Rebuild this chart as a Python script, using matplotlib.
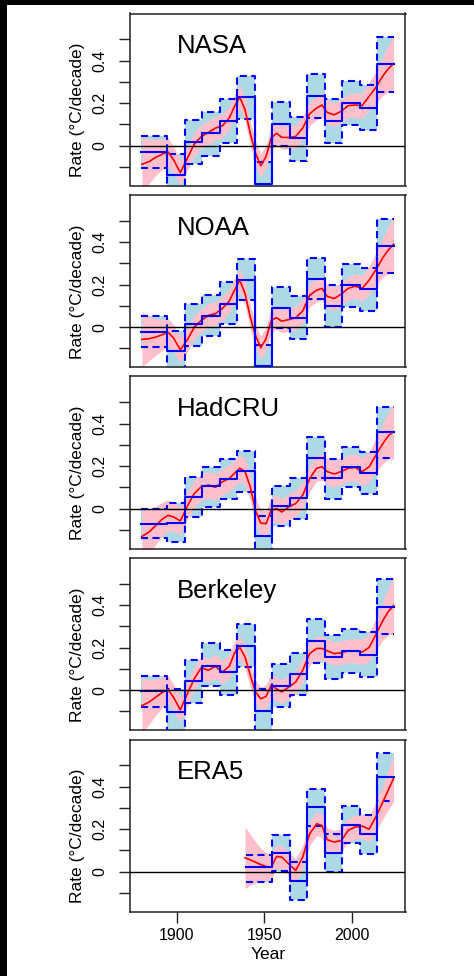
import numpy as np
import matplotlib
matplotlib.use('Agg')
import matplotlib.pyplot as plt
from matplotlib.patches import Rectangle

plt.rcParams['font.family'] = ['Liberation Sans', 'DejaVu Sans']

# ---------------- data ----------------
datasets = ['NASA', 'NOAA', 'HadCRU', 'Berkeley', 'ERA5']

seg_edges_long = [1879.5, 1894.5, 1904.5, 1914.5, 1924.5, 1934.5, 1944.5, 1954.5,
                  1964.5, 1974.5, 1984.5, 1994.5, 2004.5, 2014.5, 2024.5]
seg_edges_era5 = [1939.5, 1954.5, 1964.5, 1974.5, 1984.5, 1994.5, 2004.5, 2014.5, 2024.5]

rate_nasa = [-0.03, -0.137, 0.016, 0.058, 0.115, 0.227, -0.18, 0.101, 0.035, 0.232, 0.118, 0.2, 0.178, 0.382]
hi_nasa = [0.046, -0.04, 0.122, 0.158, 0.22, 0.329, -0.076, 0.204, 0.136, 0.335, 0.221, 0.306, 0.284, 0.513]
lo_nasa = [-0.107, -0.235, -0.087, -0.047, 0.014, 0.126, -0.285, -0.003, -0.073, 0.13, 0.014, 0.098, 0.073, 0.25]

rate_noaa = [-0.024, -0.114, 0.013, 0.054, 0.111, 0.224, -0.182, 0.09, 0.044, 0.226, 0.1, 0.196, 0.177, 0.384]
hi_noaa = [0.05, -0.019, 0.107, 0.153, 0.21, 0.322, -0.084, 0.19, 0.145, 0.324, 0.2, 0.295, 0.276, 0.51]
lo_noaa = [-0.095, -0.21, -0.087, -0.044, 0.013, 0.126, -0.28, -0.005, -0.058, 0.13, 0.0, 0.095, 0.074, 0.257]

rate_hadcru = [-0.071, -0.068, 0.055, 0.106, 0.137, 0.177, -0.131, 0.011, 0.051, 0.24, 0.142, 0.197, 0.169, 0.36]
hi_hadcru = [0.0, 0.024, 0.147, 0.197, 0.232, 0.273, -0.036, 0.107, 0.145, 0.336, 0.234, 0.292, 0.265, 0.479]
lo_hadcru = [-0.139, -0.158, -0.04, 0.008, 0.043, 0.079, -0.226, -0.084, -0.047, 0.142, 0.043, 0.103, 0.071, 0.24]

rate_berkeley = [-0.006, -0.101, 0.041, 0.115, 0.084, 0.209, -0.1, 0.021, 0.074, 0.231, 0.156, 0.185, 0.166, 0.393]
hi_berkeley = [0.066, 0.006, 0.144, 0.223, 0.188, 0.311, 0.003, 0.122, 0.175, 0.333, 0.259, 0.286, 0.275, 0.524]
lo_berkeley = [-0.081, -0.21, -0.062, 0.017, -0.021, 0.109, -0.205, -0.081, -0.025, 0.128, 0.054, 0.082, 0.062, 0.264]

rate_era5 = [0.02, 0.087, -0.043, 0.304, 0.087, 0.22, 0.175, 0.446]
hi_era5 = [0.08, 0.17, 0.044, 0.39, 0.175, 0.307, 0.265, 0.559]
lo_era5 = [-0.05, 0.005, -0.132, 0.214, -0.003, 0.134, 0.083, 0.331]

smooth_years = [1880, 1884, 1888, 1892, 1895, 1898, 1902, 1906, 1910, 1914, 1918, 1922, 1926, 1930,
                1933, 1936, 1939, 1942, 1945, 1948, 1951, 1954, 1957, 1960, 1964, 1968, 1972, 1976,
                1980, 1983, 1986, 1990, 1994, 1998, 2002, 2006, 2010, 2014, 2018, 2021, 2024]

smooth_nasa = [-0.088, -0.076, -0.055, -0.039, -0.03, -0.065, -0.128, -0.06, 0.008, 0.043, 0.062, 0.082,
               0.093, 0.13, 0.185, 0.229, 0.169, 0.058, -0.036, -0.095, -0.052, 0.035, 0.058, 0.039,
               0.038, 0.043, 0.082, 0.15, 0.177, 0.191, 0.156, 0.145, 0.161, 0.188, 0.191, 0.188,
               0.232, 0.276, 0.33, 0.362, 0.387]
smooth_noaa = [-0.058, -0.055, -0.047, -0.035, -0.025, -0.05, -0.107, -0.06, 0.0, 0.032, 0.055, 0.063,
               0.087, 0.123, 0.174, 0.221, 0.158, 0.047, -0.04, -0.098, -0.055, 0.032, 0.044, 0.028,
               0.035, 0.044, 0.076, 0.15, 0.174, 0.182, 0.145, 0.134, 0.155, 0.182, 0.193, 0.182,
               0.221, 0.272, 0.329, 0.363, 0.39]
smooth_hadcru = [-0.131, -0.111, -0.079, -0.047, -0.032, -0.039, -0.058, 0.012, 0.071, 0.103, 0.111, 0.1,
                 0.126, 0.142, 0.166, 0.19, 0.174, 0.103, -0.01, -0.068, -0.071, -0.008, 0.0, -0.016,
                 0.008, 0.024, 0.063, 0.142, 0.19, 0.197, 0.174, 0.163, 0.174, 0.19, 0.194, 0.174,
                 0.197, 0.253, 0.308, 0.343, 0.363]
smooth_berkeley = [-0.073, -0.057, -0.033, -0.009, 0.002, -0.033, -0.093, -0.017, 0.054, 0.106, 0.093,
                   0.112, 0.085, 0.112, 0.175, 0.201, 0.156, 0.07, -0.009, -0.041, -0.03, 0.022, 0.006,
                   -0.009, 0.014, 0.038, 0.093, 0.172, 0.196, 0.196, 0.185, 0.172, 0.175, 0.185, 0.185,
                   0.179, 0.201, 0.264, 0.33, 0.37, 0.398]
halfwidth_long = [0.13, 0.105, 0.085, 0.072, 0.066, 0.062, 0.06, 0.057, 0.055, 0.055, 0.055, 0.055, 0.055,
                  0.055, 0.055, 0.055, 0.055, 0.055, 0.055, 0.055, 0.055, 0.055, 0.055, 0.055, 0.055,
                  0.055, 0.055, 0.055, 0.055, 0.055, 0.055, 0.055, 0.055, 0.055, 0.057, 0.06, 0.066,
                  0.076, 0.093, 0.11, 0.135]
halfwidth_hadcru = [0.13, 0.11, 0.09, 0.078, 0.072, 0.068, 0.066, 0.064, 0.062, 0.062, 0.062, 0.062,
                    0.062, 0.062, 0.062, 0.062, 0.062, 0.062, 0.062, 0.062, 0.062, 0.062, 0.062, 0.062,
                    0.062, 0.062, 0.062, 0.062, 0.062, 0.062, 0.062, 0.062, 0.062, 0.062, 0.063, 0.066,
                    0.07, 0.08, 0.095, 0.11, 0.13]

smooth_years_era5 = [1939, 1942, 1945, 1948, 1951, 1954, 1957, 1960, 1964, 1968, 1972, 1976, 1980,
                     1983, 1986, 1990, 1994, 1998, 2002, 2006, 2010, 2014, 2018, 2021, 2024]
smooth_era5 = [0.065, 0.055, 0.044, 0.033, 0.024, 0.02, 0.071, 0.068, 0.036, 0.005, 0.068, 0.178,
               0.225, 0.217, 0.15, 0.139, 0.146, 0.194, 0.21, 0.214, 0.2, 0.26, 0.33, 0.385, 0.44]
halfwidth_era5 = [0.145, 0.12, 0.097, 0.078, 0.066, 0.06, 0.055, 0.055, 0.055, 0.055, 0.055, 0.055,
                  0.055, 0.055, 0.055, 0.055, 0.055, 0.055, 0.055, 0.057, 0.06, 0.068, 0.08, 0.094, 0.11]

ytick_vals = [-0.1, 0, 0.1, 0.2, 0.3, 0.4, 0.5]
ytick_labels = ['', '0', '', '0.2', '', '0.4', '']
xtick_vals = [1900, 1950, 2000]
xtick_labels = ['1900', '1950', '2000']

panels = [
    ('NASA', seg_edges_long, rate_nasa, lo_nasa, hi_nasa, smooth_years, smooth_nasa, halfwidth_long),
    ('NOAA', seg_edges_long, rate_noaa, lo_noaa, hi_noaa, smooth_years, smooth_noaa, halfwidth_long),
    ('HadCRU', seg_edges_long, rate_hadcru, lo_hadcru, hi_hadcru, smooth_years, smooth_hadcru, halfwidth_hadcru),
    ('Berkeley', seg_edges_long, rate_berkeley, lo_berkeley, hi_berkeley, smooth_years, smooth_berkeley, halfwidth_long),
    ('ERA5', seg_edges_era5, rate_era5, lo_era5, hi_era5, smooth_years_era5, smooth_era5, halfwidth_era5),
]

# ---------------- figure ----------------
W, H = 474, 976
fig = plt.figure(figsize=(W / 100, H / 100), dpi=100)
fig.patch.set_facecolor('white')

ax_left, ax_right = 130, 405.5
panel_h = 172.0
tops = [13.5, 195.0, 376.5, 558.0, 739.5]

dash = (0, (3.4, 2.1))

for i, (name, edges, rate, lo, hi, sy, sv, hw) in enumerate(panels):
    top = tops[i]
    ax = fig.add_axes([ax_left / W, 1 - (top + panel_h) / H, (ax_right - ax_left) / W, panel_h / H])
    edges = np.asarray(edges)
    rate_e = np.append(rate, rate[-1])
    lo_e = np.append(lo, lo[-1])
    hi_e = np.append(hi, hi[-1])
    sy = np.asarray(sy)
    sv = np.asarray(sv)
    hw = np.asarray(hw)

    ax.fill_between(edges, lo_e, hi_e, step='post', color='#ADD8E6', lw=0, zorder=1)
    ax.fill_between(sy, sv - hw, sv + hw, color='#FFC0CB', lw=0, zorder=2)
    ax.plot(edges, hi_e, drawstyle='steps-post', color='blue', lw=1.5, ls=dash, zorder=3)
    ax.plot(edges, lo_e, drawstyle='steps-post', color='blue', lw=1.5, ls=dash, zorder=3)
    ax.plot(sy, sv, color='red', lw=1.2, zorder=4, solid_joinstyle='round')
    ax.plot(edges, rate_e, drawstyle='steps-post', color='blue', lw=1.5, zorder=5)
    ax.axhline(0, color='black', lw=1.0, zorder=6)

    ax.set_xlim(1873.2, 2030.8)
    ax.set_ylim(-0.188, 0.622)

    ax.text(1900, 0.435, name, fontsize=18.5, ha='left', va='baseline', zorder=7)

    for sp in ax.spines.values():
        sp.set_color('#222222')
        sp.set_linewidth(1.1)

    ax.set_yticks(ytick_vals)
    ax.set_yticklabels(ytick_labels)
    ax.tick_params(axis='y', direction='out', length=8, width=1.0, color='#222222',
                   labelsize=11.5, pad=8.0, labelrotation=90)
    for lbl in ax.get_yticklabels():
        lbl.set_va('center')

    ax.set_ylabel('Rate (°C/decade)', fontsize=12.5)
    ax.yaxis.set_label_coords(-0.165, 0.44)

    if i < len(panels) - 1:
        ax.set_xticks([])
    else:
        ax.set_xticks(xtick_vals)
        ax.set_xticklabels(xtick_labels)
        ax.tick_params(axis='x', direction='out', length=8, width=1.0, color='#222222',
                       labelsize=11.5, pad=4.0)
        ax.set_xlabel('Year', fontsize=12.5, labelpad=2.5)

# black frame strips visible in the reference image
fig.patches.append(Rectangle((0, 1 - 5 / H), 1, 5 / H, transform=fig.transFigure,
                             facecolor='black', edgecolor='none', zorder=10))
fig.patches.append(Rectangle((0, 0), 6.5 / W, 1, transform=fig.transFigure,
                             facecolor='black', edgecolor='none', zorder=10))

fig.savefig('out.png', dpi=100, facecolor='white')
